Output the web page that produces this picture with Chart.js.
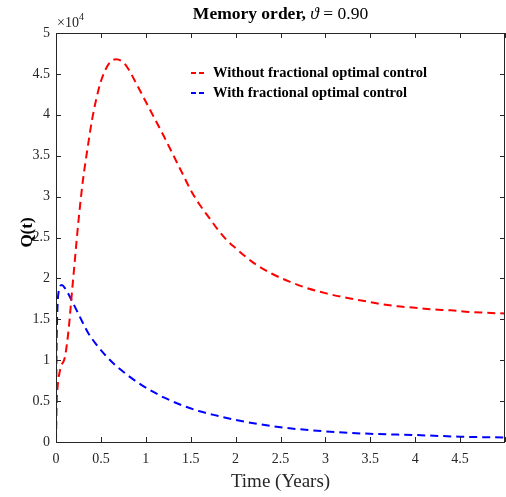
<!DOCTYPE html>
<html>
<head>
<meta charset="utf-8">
<script src="https://cdn.jsdelivr.net/npm/chart.js@4.4.0/dist/chart.umd.min.js"></script>
<style>
  html, body { margin: 0; padding: 0; background: #fff; overflow: hidden; }
  #wrap { width: 506px; height: 497px; position: relative; }
</style>
</head>
<body>
<div id="wrap"><canvas id="qChart"></canvas></div>
<script>
// values in units of 10^4
const timeRed = [0, 0.005, 0.01, 0.045, 0.1, 0.14, 0.18, 0.2, 0.25, 0.3, 0.35, 0.4, 0.45, 0.5, 0.55, 0.6, 0.67, 0.75, 0.8, 0.9, 1.0,
                 1.1, 1.2, 1.3, 1.4, 1.5, 1.6, 1.7, 1.8, 1.9, 2.0, 2.2, 2.4, 2.6, 2.8, 3.0, 3.2, 3.4, 3.6, 3.8, 4.0,
                 4.2, 4.4, 4.6, 4.8, 5.0];
const withoutControl = [0, 0.4, 0.55, 0.88, 1.04, 1.37, 1.86, 2.1, 2.7, 3.2, 3.58, 3.93, 4.2, 4.41, 4.55, 4.64, 4.68, 4.64, 4.57, 4.37, 4.16,
                        3.95, 3.74, 3.52, 3.3, 3.08, 2.9, 2.75, 2.6, 2.47, 2.37, 2.19, 2.06, 1.96, 1.88, 1.82, 1.77, 1.73, 1.69, 1.66, 1.64,
                        1.62, 1.61, 1.59, 1.58, 1.57];
const timeBlue = [0, 0.005, 0.015, 0.03, 0.065, 0.1, 0.18, 0.27, 0.36, 0.45, 0.55, 0.66, 0.77, 0.88, 1.0, 1.12, 1.2, 1.4, 1.6, 1.8, 2.0,
                  2.2, 2.5, 3.0, 3.5, 4.0, 4.5, 5.0];
const withControl = [0, 1.0, 1.6, 1.84, 1.92, 1.88, 1.72, 1.52, 1.33, 1.19, 1.06, 0.94, 0.84, 0.75, 0.665, 0.59, 0.545, 0.45, 0.375, 0.32, 0.27,
                     0.23, 0.18, 0.13, 0.1, 0.085, 0.065, 0.055];
const seriesLabels = ['Without fractional optimal control', 'With fractional optimal control'];
const titleText = ['Memory order,', '\u03D1', '= 0.90'];
const xTitle = 'Time (Years)';
const yTitle = 'Q(t)';

const SERIF = '"Liberation Serif", "DejaVu Serif", serif';
const AXIS = '#262626';

function toPoints(xs, ys) {
    return xs.map((x, i) => ({ x: x, y: ys[i] }));
}

// box, inward ticks, legend, titles and multiplier
const decorations = {
    id: 'decorations',
    afterDraw(chart) {
        const ctx = chart.ctx;
        const a = chart.chartArea;
        const xs = chart.scales.x, ys = chart.scales.y;
        ctx.save();
        ctx.strokeStyle = AXIS;
        ctx.lineWidth = 1;
        ctx.strokeRect(Math.round(a.left) + 0.5, Math.round(a.top) + 0.5,
                       Math.round(a.right - a.left) - 1, Math.round(a.bottom - a.top));
        const tl = 5;
        ctx.beginPath();
        xs.ticks.forEach(t => {
            const px = Math.round(xs.getPixelForValue(t.value)) + 0.5;
            ctx.moveTo(px, a.bottom); ctx.lineTo(px, a.bottom - tl);
            ctx.moveTo(px, a.top); ctx.lineTo(px, a.top + tl);
        });
        ys.ticks.forEach(t => {
            const py = Math.round(ys.getPixelForValue(t.value)) + 0.5;
            ctx.moveTo(a.left, py); ctx.lineTo(a.left + tl, py);
            ctx.moveTo(a.right, py); ctx.lineTo(a.right - tl, py);
        });
        ctx.stroke();

        // legend
        chart.data.datasets.forEach((ds, i) => {
            const y = a.top + 40 + i * 20;
            ctx.strokeStyle = ds.borderColor;
            ctx.lineWidth = 2;
            ctx.setLineDash([5, 3]);
            ctx.beginPath();
            ctx.moveTo(a.left + 135, y);
            ctx.lineTo(a.left + 151, y);
            ctx.stroke();
            ctx.setLineDash([]);
            ctx.fillStyle = '#000';
            ctx.font = 'bold 14.5px ' + SERIF;
            ctx.textBaseline = 'middle';
            ctx.textAlign = 'left';
            ctx.fillText(ds.label, a.left + 157, y);
        });

        // y title, a little above the middle like the original
        ctx.save();
        ctx.translate(28, (a.top + a.bottom) / 2 - 5);
        ctx.rotate(-Math.PI / 2);
        ctx.font = 'bold 17px ' + SERIF;
        ctx.fillStyle = '#000';
        ctx.textAlign = 'center';
        ctx.textBaseline = 'middle';
        ctx.fillText(yTitle, 0, 0);
        ctx.restore();

        // title
        const cx = (a.left + a.right) / 2;
        ctx.fillStyle = '#000';
        ctx.textBaseline = 'alphabetic';
        const fBold = 'bold 17.5px ' + SERIF, fIt = 'italic 17.5px ' + SERIF, fReg = '17.5px ' + SERIF;
        ctx.font = fBold; const w1 = ctx.measureText(titleText[0] + ' ').width;
        ctx.font = fIt; const w2 = ctx.measureText(titleText[1] + ' ').width;
        ctx.font = fReg; const w3 = ctx.measureText(titleText[2]).width;
        let x0 = cx - (w1 + w2 + w3) / 2;
        ctx.textAlign = 'left';
        ctx.font = fBold; ctx.fillText(titleText[0], x0, 19); x0 += w1;
        ctx.font = fIt; ctx.fillText(titleText[1], x0, 19); x0 += w2;
        ctx.font = fReg; ctx.fillText(titleText[2], x0, 19);

        // multiplier
        ctx.fillStyle = AXIS;
        ctx.font = '14px ' + SERIF;
        ctx.fillText('\u00D710', a.left + 1, 27);
        const mw = ctx.measureText('\u00D710').width;
        ctx.font = '10px ' + SERIF;
        ctx.fillText('4', a.left + 1 + mw, 20);
        ctx.restore();
    }
};

const ctx = document.getElementById('qChart').getContext('2d');
new Chart(ctx, {
    type: 'line',
    data: {
        datasets: [{
            label: seriesLabels[0],
            data: toPoints(timeRed, withoutControl),
            borderColor: '#ff0000',
            borderWidth: 2,
            borderDash: [8, 5],
            pointRadius: 0,
            fill: false,
            cubicInterpolationMode: 'monotone'
        }, {
            label: seriesLabels[1],
            data: toPoints(timeBlue, withControl),
            borderColor: '#0000ff',
            borderWidth: 2,
            borderDash: [8, 5],
            pointRadius: 0,
            fill: false,
            cubicInterpolationMode: 'monotone'
        }]
    },
    options: {
        responsive: true,
        maintainAspectRatio: false,
        animation: false,
        layout: {
            padding: { top: 33, right: 1, bottom: 0, left: 0 }
        },
        plugins: {
            legend: { display: false },
            tooltip: { enabled: false }
        },
        scales: {
            x: {
                type: 'linear',
                min: 0,
                max: 5,
                afterFit: s => { s.height = 55; s.paddingLeft = 0; s.paddingRight = 0; },
                grid: { display: false, drawTicks: false },
                border: { display: false },
                ticks: {
                    stepSize: 0.5,
                    padding: 9,
                    maxRotation: 0,
                    color: AXIS,
                    font: { family: SERIF, size: 14 },
                    callback: v => (v >= 5 ? '' : String(v))
                },
                title: {
                    display: true,
                    text: xTitle,
                    color: AXIS,
                    font: { family: SERIF, size: 19 },
                    padding: { top: 0, bottom: 4 }
                }
            },
            y: {
                min: 0,
                max: 5,
                afterFit: s => { s.width = 56; },
                grid: { display: false, drawTicks: false },
                border: { display: false },
                ticks: {
                    stepSize: 0.5,
                    padding: 6,
                    color: AXIS,
                    font: { family: SERIF, size: 14 },
                    callback: v => String(v)
                }
            }
        }
    },
    plugins: [decorations]
});
</script>
</body>
</html>
